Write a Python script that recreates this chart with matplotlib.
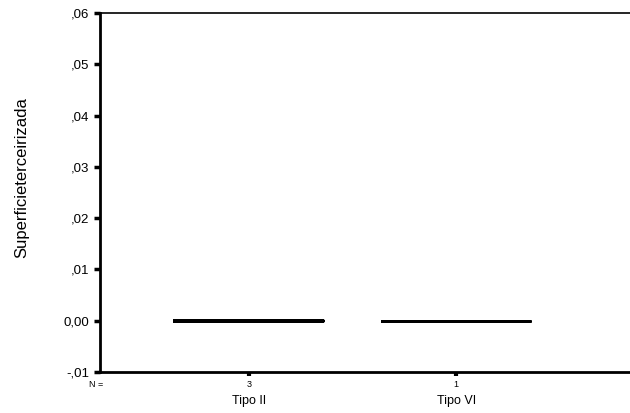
import numpy as np
import matplotlib
matplotlib.use("Agg")
import matplotlib.pyplot as plt

plt.rcParams['font.family'] = ['Liberation Sans', 'DejaVu Sans']

categories = ['Tipo II', 'Tipo VI']
counts = [3, 1]
values = [[0.0, 0.0, 0.0], [0.0]]
yticks = [-0.01, 0.0, 0.01, 0.02, 0.03, 0.04, 0.05, 0.06]
ytick_labels = ['-,01', '0,00', ',01', ',02', ',03', ',04', ',05', ',06']

fig = plt.figure(figsize=(6.3, 4.13), dpi=100)
ax = fig.add_axes([0.1587, 0.0993, 0.8413, 0.8692])

pos = np.arange(len(categories))
bp = ax.boxplot(values, positions=pos, widths=0.715, showfliers=False,
                boxprops=dict(color='black', linewidth=2.6),
                medianprops=dict(color='black', linewidth=2.6),
                whiskerprops=dict(color='black', linewidth=1),
                capprops=dict(linewidth=0))
# the single-case box is drawn a bit thinner
bp['boxes'][1].set_linewidth(2.1)
bp['medians'][1].set_linewidth(2.1)

ax.set_xlim(-0.72, 1.84)
ax.set_ylim(-0.01, 0.06)
ax.set_yticks(yticks)
ax.set_yticklabels(ytick_labels, fontsize=9.5)
ax.set_xticks(pos)
ax.set_xticklabels([])

ax.tick_params(axis='y', direction='out', length=4.5, width=2.5, pad=3)
ax.tick_params(axis='x', direction='out', length=3, width=3)

for s in ['left', 'bottom']:
    ax.spines[s].set_linewidth(2)
ax.spines['top'].set_linewidth(1.2)
ax.spines['right'].set_visible(False)

# N row and category names below the axis
ax.text(-0.74, -0.0124, 'N =', fontsize=6.5, ha='center', va='center', clip_on=False)
for p, n, c in zip(pos, counts, categories):
    ax.text(p, -0.0124, str(n), fontsize=6.5, ha='center', va='center', clip_on=False)
    ax.text(p, -0.0156, c, fontsize=9, ha='center', va='center', clip_on=False)

fig.text(22 / 630, 1 - 178 / 413, 'Superficieterceirizada', rotation=90,
         fontsize=12, ha='center', va='center')

fig.savefig('out.png', dpi=100)
